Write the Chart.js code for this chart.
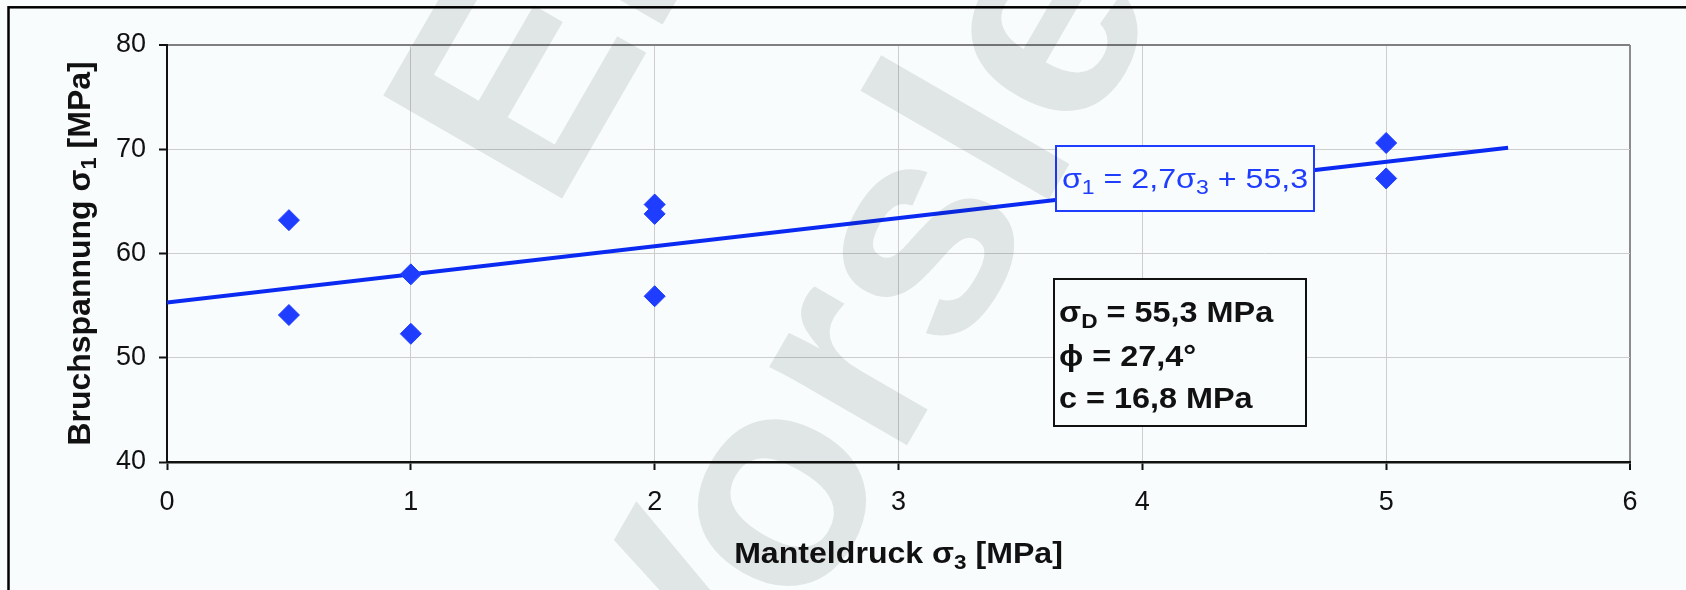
<!DOCTYPE html>
<html>
<head>
<meta charset="utf-8">
<title>Bruchspannung über Manteldruck</title>
<script src="https://cdn.jsdelivr.net/npm/chart.js@4.4.1/dist/chart.umd.min.js"></script>
<style>
  html, body { margin: 0; padding: 0; background: #f9fcfd; }
  canvas { display: block; }
</style>
</head>
<body>
<canvas id="chart" width="1686" height="590"></canvas>
<script>
// Triaxialversuche: Manteldruck σ3 und zugehörige Bruchspannung σ1 [MPa]
const manteldruck   = [0.5, 0.5, 1.0, 1.0, 2.0, 2.0, 2.0, 5.0, 5.0];
const bruchspannung = [63.2, 54.1, 58.0, 52.3, 64.7, 63.8, 55.9, 70.6, 67.2];

// Achsenteilung
const xTickValues = [0, 1, 2, 3, 4, 5, 6];
const yTickValues = [40, 50, 60, 70, 80];

// Regressionsgerade σ1 = a·σ3 + b
const trendSlope = 2.7;
const trendIntercept = 55.3;
const trendRange = [0, 5.5];

// Kennwerte der Bruchgeraden
const sigmaD = 55.3;   // MPa
const phi = 27.4;      // °
const cohesion = 16.8; // MPa

const BG = '#f9fcfd';
const SANS = '"Liberation Sans", Arial, Helvetica, sans-serif';
const BLUE = '#1f3dff';
const LINE_BLUE = '#0a2af2';

const fmt = v => v.toFixed(1).replace('.', ',');
const f = (size, bold) => (bold ? 'bold ' : '') + size + 'px ' + SANS;

function richWidth(ctx, segs) {
  let w = 0;
  for (const s of segs) { ctx.font = s.font; w += ctx.measureText(s.t).width; }
  return w;
}

function drawRich(ctx, segs, x, y, align, color, stretch) {
  ctx.save();
  ctx.translate(x, y);
  ctx.scale(stretch || 1, 1);
  ctx.fillStyle = color;
  ctx.textAlign = 'left';
  ctx.textBaseline = 'alphabetic';
  const w = richWidth(ctx, segs);
  let cx = align === 'center' ? -w / 2 : 0;
  for (const s of segs) {
    ctx.font = s.font;
    ctx.fillText(s.t, cx, s.dy || 0);
    cx += ctx.measureText(s.t).width;
  }
  ctx.restore();
}

const xTitle = [
  { t: 'Manteldruck σ', font: f(30, true) },
  { t: '3', font: f(21, true), dy: 6 },
  { t: ' [MPa]', font: f(30, true) }
];
const yTitle = [
  { t: 'Bruchspannung σ', font: f(32, true) },
  { t: '1', font: f(22, true), dy: 6 },
  { t: ' [MPa]', font: f(32, true) }
];

const EQ = f(28, false), EQ_SUB = f(20, false);
const equation = [
  { t: 'σ', font: EQ },
  { t: '1', font: EQ_SUB, dy: 6 },
  { t: ' = ' + fmt(trendSlope) + 'σ', font: EQ },
  { t: '3', font: EQ_SUB, dy: 6 },
  { t: ' + ' + fmt(trendIntercept), font: EQ }
];

const ST = f(30, true), ST_SUB = f(21, true);
const statLines = [
  [{ t: 'σ', font: ST }, { t: 'D', font: ST_SUB, dy: 6 }, { t: ' = ' + fmt(sigmaD) + ' MPa', font: ST }],
  [{ t: 'ϕ = ' + fmt(phi) + '°', font: ST }],
  [{ t: 'c = ' + fmt(cohesion) + ' MPa', font: ST }]
];

const watermark = [
  { text: 'El', x: 552, y: 216 },
  { text: 'Vorsle', x: 716, y: 776 }
];

const decorations = {
  id: 'decorations',
  beforeDraw(chart) {
    const ctx = chart.ctx;
    ctx.save();
    ctx.fillStyle = BG;
    ctx.fillRect(0, 0, chart.width, chart.height);
    ctx.restore();
  },
  afterDraw(chart) {
    const ctx = chart.ctx;
    const area = chart.chartArea;

    // Achsentitel
    drawRich(ctx, xTitle, (area.left + area.right) / 2, 563, 'center', '#111', 1.07);
    ctx.save();
    ctx.translate(90, (area.top + area.bottom) / 2);
    ctx.rotate(-Math.PI / 2);
    drawRich(ctx, yTitle, 0, 0, 'center', '#111', 1.0);
    ctx.restore();

    // Gleichung der Regressionsgeraden
    ctx.save();
    ctx.fillStyle = BG;
    ctx.fillRect(1056, 146, 258, 65);
    ctx.strokeStyle = BLUE;
    ctx.lineWidth = 2;
    ctx.strokeRect(1056, 146, 258, 65);
    ctx.restore();
    drawRich(ctx, equation, 1062, 188, 'left', BLUE, 1.15);

    // Kennwerte
    ctx.save();
    ctx.fillStyle = BG;
    ctx.fillRect(1054, 279, 252, 147);
    ctx.strokeStyle = '#111';
    ctx.lineWidth = 2;
    ctx.strokeRect(1054, 279, 252, 147);
    ctx.restore();
    const baselines = [322, 366, 408];
    statLines.forEach((line, i) => drawRich(ctx, line, 1059, baselines[i], 'left', '#111', 1.08));

    // Rahmen
    ctx.save();
    ctx.strokeStyle = '#000';
    ctx.lineWidth = 2.5;
    ctx.strokeRect(8.5, 7.3, chart.width + 20, chart.height + 20);
    ctx.restore();

    // Wasserzeichen
    ctx.save();
    ctx.globalCompositeOperation = 'multiply';
    ctx.fillStyle = '#e6e8e8';
    ctx.font = f(300, true);
    ctx.textAlign = 'left';
    ctx.textBaseline = 'alphabetic';
    for (const w of watermark) {
      ctx.save();
      ctx.translate(w.x, w.y);
      ctx.rotate(-Math.PI / 3);
      ctx.fillText(w.text, 0, 0);
      ctx.restore();
    }
    ctx.restore();
  }
};

const messwerte = manteldruck.map((x, i) => ({ x, y: bruchspannung[i] }));
const regression = trendRange.map(x => ({ x, y: trendIntercept + trendSlope * x }));

new Chart(document.getElementById('chart'), {
  type: 'scatter',
  data: {
    datasets: [
      {
        label: 'Messwerte',
        data: messwerte,
        pointStyle: 'rectRot',
        pointRadius: 10.5,
        pointHoverRadius: 10.5,
        backgroundColor: BLUE,
        borderColor: BLUE,
        borderWidth: 1,
        order: 0
      },
      {
        label: 'Regression',
        data: regression,
        showLine: true,
        borderColor: LINE_BLUE,
        borderWidth: 4,
        pointRadius: 0,
        pointHoverRadius: 0,
        fill: false,
        tension: 0,
        order: 1
      }
    ]
  },
  options: {
    responsive: false,
    animation: false,
    devicePixelRatio: 1,
    layout: { padding: { left: 0, right: 56, top: 45, bottom: 0 } },
    plugins: { legend: { display: false }, tooltip: { enabled: false } },
    scales: {
      x: {
        type: 'linear',
        position: 'bottom',
        min: 0,
        max: 6,
        afterBuildTicks: s => { s.ticks = xTickValues.map(v => ({ value: v })); },
        afterFit: s => { s.height = 128; },
        ticks: {
          autoSkip: false,
          maxRotation: 0,
          color: '#111',
          padding: 16,
          font: { family: SANS, size: 27 },
          callback: v => String(v)
        },
        grid: {
          color: c => c.tick.value === 6 ? '#8c8c8c' : (c.tick.value === 0 ? 'rgba(0,0,0,0)' : '#cdcdcd'),
          lineWidth: c => c.tick.value === 6 ? 2 : 1,
          drawTicks: true,
          tickLength: 8,
          tickColor: '#111',
          tickWidth: 2
        },
        border: { display: true, color: '#111', width: 2.5 },
        title: { display: false }
      },
      y: {
        type: 'linear',
        position: 'left',
        min: 40,
        max: 80,
        afterBuildTicks: s => { s.ticks = yTickValues.map(v => ({ value: v })); },
        afterFit: s => { s.width = 167; },
        ticks: {
          color: '#111',
          padding: 13,
          font: { family: SANS, size: 27 },
          callback: v => String(v)
        },
        grid: {
          color: c => c.tick.value === 80 ? '#808080' : (c.tick.value === 40 ? 'rgba(0,0,0,0)' : '#cdcdcd'),
          lineWidth: c => c.tick.value === 80 ? 2 : 1,
          drawTicks: true,
          tickLength: 8,
          tickColor: '#111',
          tickWidth: 2
        },
        border: { display: true, color: '#111', width: 2 },
        title: { display: false }
      }
    }
  },
  plugins: [decorations]
});
</script>
</body>
</html>
